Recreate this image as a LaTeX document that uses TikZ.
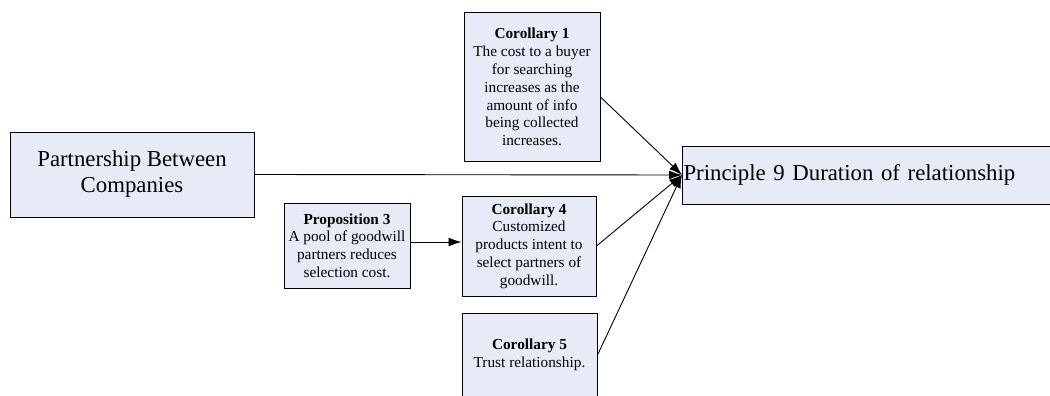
\documentclass[tikz,border=0pt]{standalone}
\usepackage{fontspec}
\setmainfont{Liberation Serif}
\usetikzlibrary{arrows.meta}
\definecolor{boxfill}{RGB}{230,235,247}
\begin{document}
\begin{tikzpicture}[x=1pt,y=-1pt,
  box/.style={draw=black, line width=1pt, fill=boxfill, inner sep=0pt, align=center},
  big/.style={box, font=\fontsize{22.8}{26}\selectfont},
  small/.style={box, font=\fontsize{15.3}{17.8}\selectfont},
  link/.style={line width=0.9pt, -{Latex[length=13pt,width=9pt]}}]
\useasboundingbox (0,0) rectangle (1050,396);

% boxes
\node[big, minimum width=244pt, minimum height=85pt] (partner) at (132,174.5)
  {Partnership Between\\Companies};
\node[big, anchor=west, text width=372pt, align=left, inner xsep=1pt,
  minimum height=58pt] (p9) at (682,175) {Principle 9 Duration of relationship};
\node[small, minimum width=136pt, minimum height=148pt] (c1) at (532,87)
  {\textbf{Corollary 1}\\The cost to a buyer\\for searching\\increases as the\\amount of info\\being collected\\increases.};
\node[small, minimum width=126pt, minimum height=85pt] (prop3) at (347,245.5)
  {\textbf{Proposition 3}\\A pool of goodwill\\partners reduces\\selection cost.};
\node[small, minimum width=134pt, minimum height=100pt] (c4) at (529,246)
  {\textbf{Corollary 4}\\Customized\\products intent to\\select partners of\\goodwill.};
\node[small, minimum width=135pt, minimum height=84pt] (c5) at (529.5,355)
  {\textbf{Corollary 5}\\Trust relationship.};

% connectors
\draw[link] (partner.east) -- (p9.west);
\draw[link] ([yshift=-10pt]c1.east) -- (p9.west);
\draw[link] (c4.east) -- (p9.west);
\draw[link] (c5.east) -- (p9.west);
\draw[link] ([yshift=3.5pt]prop3.east) -- ([yshift=3.5pt]prop3.east -| c4.west);
\end{tikzpicture}
\end{document}
